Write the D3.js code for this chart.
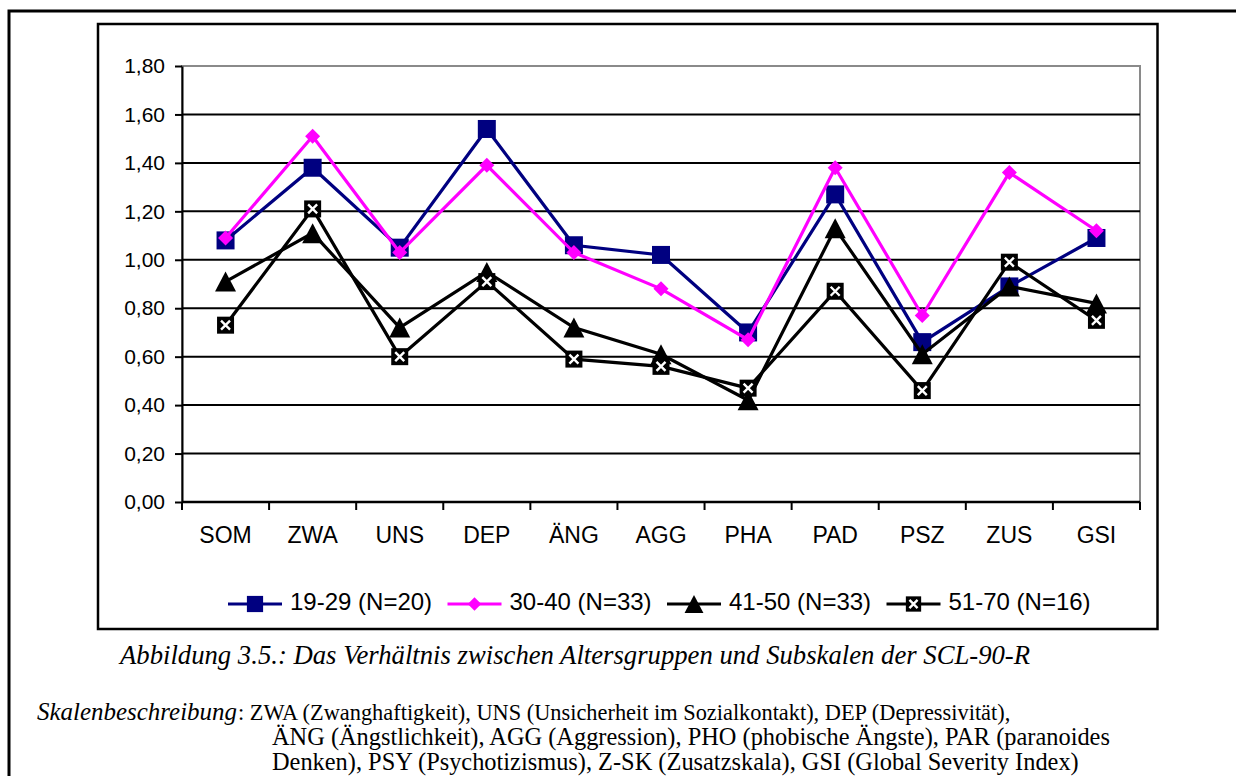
<!DOCTYPE html>
<html>
<head>
<meta charset="utf-8">
<script src="https://cdn.jsdelivr.net/npm/d3@7"></script>
<style>
  html, body { margin: 0; padding: 0; background: #fff; }
  svg { display: block; }
</style>
</head>
<body>
<svg id="chart" width="1236" height="776"></svg>
<script>
// SCL-90-R subscale means by age group
const categories = ["SOM", "ZWA", "UNS", "DEP", "ÄNG", "AGG", "PHA", "PAD", "PSZ", "ZUS", "GSI"];
const yTickValues = [0, 0.2, 0.4, 0.6, 0.8, 1.0, 1.2, 1.4, 1.6, 1.8];
const seriesNames = ["19-29 (N=20)", "30-40 (N=33)", "41-50 (N=33)", "51-70 (N=16)"];
const age19to29 = [1.08, 1.38, 1.05, 1.54, 1.06, 1.02, 0.70, 1.27, 0.66, 0.89, 1.09];
const age30to40 = [1.09, 1.51, 1.03, 1.39, 1.03, 0.88, 0.67, 1.38, 0.77, 1.36, 1.12];
const age41to50 = [0.91, 1.11, 0.72, 0.95, 0.72, 0.61, 0.42, 1.13, 0.61, 0.89, 0.82];
const age51to70 = [0.73, 1.21, 0.60, 0.91, 0.59, 0.56, 0.47, 0.87, 0.46, 0.99, 0.75];

const captionTitle = "Abbildung 3.5.: Das Verhältnis zwischen Altersgruppen und Subskalen der SCL-90-R";
const captionLead = "Skalenbeschreibung";
const captionLines = [
  ": ZWA (Zwanghaftigkeit), UNS (Unsicherheit im Sozialkontakt), DEP (Depressivität),",
  "ÄNG (Ängstlichkeit), AGG (Aggression), PHO (phobische Ängste), PAR (paranoides",
  "Denken), PSY (Psychotizismus), Z-SK (Zusatzskala), GSI (Global Severity Index)"
];

const series = [
  { name: seriesNames[0], values: age19to29, color: "#000080", marker: "square" },
  { name: seriesNames[1], values: age30to40, color: "#FF00FF", marker: "diamond" },
  { name: seriesNames[2], values: age41to50, color: "#000000", marker: "triangle" },
  { name: seriesNames[3], values: age51to70, color: "#000000", marker: "boxx" }
];

const sans = "Liberation Sans, Arial, sans-serif";
const serif = "Liberation Serif, Times New Roman, serif";

const svg = d3.select("#chart");

// Page frame (left and top rules)
svg.append("path")
  .attr("d", "M9,776 L9,11 L1236,11")
  .attr("fill", "none").attr("stroke", "#000").attr("stroke-width", 3);

// Chart area frame
svg.append("rect")
  .attr("x", 98).attr("y", 24).attr("width", 1059.5).attr("height", 605)
  .attr("fill", "#fff").attr("stroke", "#000").attr("stroke-width", 2.5);

const plot = { left: 182, right: 1140, top: 66, bottom: 502 };

const x = d3.scaleBand().domain(categories).range([plot.left, plot.right]).padding(0);
const xEdge = d3.scaleLinear().domain([0, categories.length]).range([plot.left, plot.right]);
const y = d3.scaleLinear().domain([0, 1.8]).range([plot.bottom, plot.top]);
const fmt = v => d3.format(".2f")(v).replace(".", ",");

// Plot area border (grey)
svg.append("rect")
  .attr("x", plot.left).attr("y", plot.top)
  .attr("width", plot.right - plot.left).attr("height", plot.bottom - plot.top)
  .attr("fill", "none").attr("stroke", "#8a8a8a").attr("stroke-width", 2);

// Horizontal gridlines
svg.append("g").selectAll("line")
  .data(yTickValues.filter(v => v > 0 && v < 1.8))
  .join("line")
  .attr("x1", plot.left).attr("x2", plot.right)
  .attr("y1", d => y(d)).attr("y2", d => y(d))
  .attr("stroke", "#000").attr("stroke-width", 2);

// Y axis
const yAxis = svg.append("g")
  .attr("transform", `translate(${plot.left},0)`)
  .call(d3.axisLeft(y).tickValues(yTickValues).tickFormat(fmt).tickSize(7).tickPadding(10).tickSizeOuter(0));
yAxis.attr("font-family", null).attr("font-size", null);
yAxis.select(".domain").attr("stroke", "#000").attr("stroke-width", 2);
yAxis.selectAll(".tick line").attr("stroke", "#000").attr("stroke-width", 2);
yAxis.selectAll(".tick text")
  .style("font-family", sans)
  .style("font-size", "21px").attr("fill", "#000");

// X axis: baseline, boundary ticks, centred labels
const xAxis = svg.append("g");
xAxis.append("line")
  .attr("x1", plot.left).attr("x2", plot.right)
  .attr("y1", plot.bottom).attr("y2", plot.bottom)
  .attr("stroke", "#000").attr("stroke-width", 2.5);
xAxis.selectAll("line.edge")
  .data(d3.range(categories.length + 1))
  .join("line").attr("class", "edge")
  .attr("x1", d => xEdge(d)).attr("x2", d => xEdge(d))
  .attr("y1", plot.bottom).attr("y2", plot.bottom + 8)
  .attr("stroke", "#000").attr("stroke-width", 2);
xAxis.selectAll("text")
  .data(categories)
  .join("text")
  .attr("x", d => x(d) + x.bandwidth() / 2)
  .attr("y", 537)
  .attr("text-anchor", "middle").attr("dominant-baseline", "middle")
  .style("font-family", sans)
  .style("font-size", "23px").attr("fill", "#000")
  .text(d => d);

// Marker shapes
function drawMarker(g, kind, color, s) {
  if (kind === "square") {
    g.append("rect").attr("x", -9 * s).attr("y", -9 * s).attr("width", 18 * s).attr("height", 18 * s).attr("fill", color);
  } else if (kind === "diamond") {
    const r = 7.5 * s;
    g.append("path").attr("d", `M0,${-r} L${r},0 L0,${r} L${-r},0 Z`).attr("fill", color);
  } else if (kind === "triangle") {
    const h = 10 * s, w = 10.5 * s;
    g.append("path").attr("d", `M0,${-h} L${w},${h} L${-w},${h} Z`).attr("fill", color);
  } else if (kind === "boxx") {
    const b = 8.5 * s, c = 4.5 * s;
    g.append("rect").attr("x", -b).attr("y", -b).attr("width", 2 * b).attr("height", 2 * b).attr("fill", color);
    g.append("path").attr("d", `M${-c},${-c} L${c},${c} M${c},${-c} L${-c},${c}`)
      .attr("stroke", "#fff").attr("stroke-width", 2.4).attr("fill", "none");
  }
}

const line = d3.line()
  .x((d, i) => x(categories[i]) + x.bandwidth() / 2)
  .y(d => y(d));

series.forEach(s => {
  const g = svg.append("g");
  g.append("path")
    .datum(s.values)
    .attr("d", line)
    .attr("fill", "none").attr("stroke", s.color).attr("stroke-width", 3.2)
    .attr("stroke-linejoin", "miter");
  g.selectAll("g.pt")
    .data(s.values)
    .join("g").attr("class", "pt")
    .attr("transform", (d, i) => `translate(${x(categories[i]) + x.bandwidth() / 2},${y(d)})`)
    .each(function () { drawMarker(d3.select(this), s.marker, s.color, 1); });
});

// Legend
const legendY = 604;
const legendStart = 228;
const legendStep = 219.5;
series.forEach((s, i) => {
  const lx = legendStart + i * legendStep;
  const g = svg.append("g").attr("transform", `translate(${lx},${legendY})`);
  g.append("line").attr("x1", 0).attr("x2", 54).attr("y1", 0).attr("y2", 0)
    .attr("stroke", s.color).attr("stroke-width", 3.2);
  const m = g.append("g").attr("transform", "translate(27,0)");
  drawMarker(m, s.marker, s.color, 0.9);
  g.append("text")
    .attr("x", 62).attr("y", 0)
    .attr("dominant-baseline", "middle")
    .style("font-family", sans)
    .style("font-size", "24px").attr("fill", "#000")
    .text(s.name);
});

// Caption and scale description: font size chosen so a line spans its width
function fitWidth(sel, width) {
  const base = parseFloat(sel.style("font-size"));
  const w = sel.node().getComputedTextLength();
  const size = base * width / w;
  sel.style("font-size", size.toFixed(2) + "px");
  return size;
}

const cap = svg.append("text")
  .attr("x", 120).attr("y", 664)
  .style("font-family", serif).style("font-style", "italic")
  .style("font-size", "24px").attr("fill", "#000")
  .text(captionTitle);
fitWidth(cap, 910);

const t3 = svg.append("text")
  .attr("x", 272).attr("y", 745)
  .style("font-family", serif).style("font-size", "24px").attr("fill", "#000")
  .text(captionLines[1]);
const bodySize = fitWidth(t3, 838);

const t4 = svg.append("text")
  .attr("x", 272).attr("y", 770)
  .style("font-family", serif).style("font-size", bodySize.toFixed(2) + "px").attr("fill", "#000")
  .text(captionLines[2]);

// Italic lead, set slightly wide, followed by the regular description text
svg.append("text")
  .attr("x", 37).attr("y", 720)
  .style("font-family", serif).style("font-style", "italic")
  .style("font-size", bodySize.toFixed(2) + "px").attr("fill", "#000")
  .attr("textLength", 200).attr("lengthAdjust", "spacingAndGlyphs")
  .text(captionLead);

const t2 = svg.append("text")
  .attr("x", 238).attr("y", 720)
  .style("font-family", serif).style("font-size", bodySize.toFixed(2) + "px").attr("fill", "#000")
  .text(captionLines[0]);
fitWidth(t2, 772);
</script>
</body>
</html>
